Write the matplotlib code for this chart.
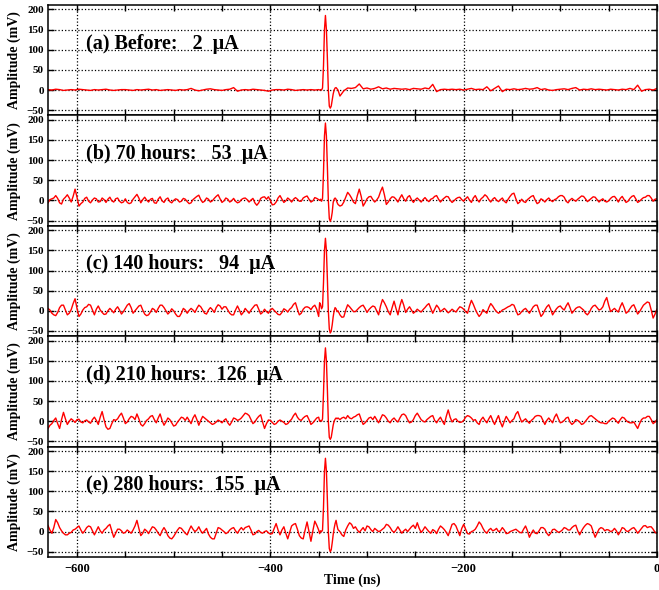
import numpy as np
import matplotlib
matplotlib.use('Agg')
from matplotlib import pyplot as plt, ticker

plt.rcParams['font.family'] = ['Liberation Serif', 'DejaVu Serif']
plt.rcParams['font.weight'] = 'bold'

# pulse region sampled at 1 ns, the rest at 4 ns (with 2 ns mid samples for b-e)
t_pulse = np.arange(-349, -329, 1)
t_pre_start, t_post_start = -630, -328

labels = ['(a) Before:   2  \u03bcA',
          '(b) 70 hours:   53  \u03bcA',
          '(c) 140 hours:   94  \u03bcA',
          '(d) 210 hours:  126  \u03bcA',
          '(e) 280 hours:  155  \u03bcA']

# (a) before
a_pre = [1, 0, 2, 1, -1, 0, 1, 0, 2, 1,
         0, -1, 1, 0, 1, 2, 0, -1, 0, 1,
         1, 0, -1, 1, 0, 1, 2, 0, 1, -1,
         0, 1, 0, -1, 1, 0, 1, 4, 0, -2,
         0, 2, 3, 1, 0, -1, 1, 2, 6, -3,
         0, 1, 0, 2, 1, 0, -1, -3, 0, 1,
         1, 0, 2, 1, -1, 0, 1, 0, 1, 0,
         1]
a_pulse = [0, 1, 0, 5, 60, 150, 185, 150, 80, 0, -40, -45, -40, -25, -10, 0, 5, 6, 3, 0]
a_post = [-15, -2, 5, 4, 6, 15, 3, 5, 2, 4,
          8, 3, 5, 2, 4, 3, 2, 3, 1, 4,
          3, 2, 5, 3, 14, -4, 1, 2, 1, 2,
          1, 2, 0, 2, 4, 1, 2, 1, 8, -2,
          4, 10, -4, 2, 1, 3, 1, 2, 4, 2,
          3, 6, 1, 3, 0, -1, 1, 2, 3, 1,
          4, 6, 0, 2, 1, 3, 1, 2, 1, 0,
          2, 1, 0, 2, 1, 4, 1, 12, -3, 1,
          2, 0, 4]

# (b) 70 hours
b_pre = [-6, 4, 12, -6, 3, 14, -4, 28, -14, -4,
         8, -6, 6, -4, 6, -5, 8, -4, 6, -6,
         4, -8, 3, 15, -6, 8, -4, 5, -7, 9,
         -5, 6, -6, 4, -4, 5, -3, -6, 6, 13,
         -5, 6, -4, 5, 14, -5, 6, -4, 5, -6,
         2, 6, -4, 5, -12, 5, 9, 9, -11, -4,
         12, -5, 6, -4, 7, -2, 6, 11, -4, 7,
         2]
b_pre_mid = [2, 6, 5, -9, 8, 6, 10, 8, -8, 5,
             -2, 1, 4, -3, 2, 3, -1, 4, -2, -4,
             -5, -6, 9, 6, 2, 1, 3, -6, 3, -1,
             3, -3, 0, 2, -2, 3, -8, 2, 10, 2,
             -2, 3, -1, 10, 4, -1, 3, -1, -2, -4,
             5, 2, 1, -6, -6, 8, 3, 0, -10, 6,
             3, -1, 2, 3, 3, -2, 9, 3, -1, 5]
b_pulse = [0, 3, -2, 5, 70, 160, 192, 160, 85, 0, -45, -52, -45, -30, -5, 3, 6, 3, -5, -10]
b_post = [-14, -4, 20, 6, -8, 28, -14, 4, 10, -4,
          8, 33, -10, 4, 8, -4, 14, -2, 12, -5,
          6, -4, 7, -3, 5, 12, -4, 6, 9, -5,
          4, 8, -2, 9, -5, 12, -4, 8, 10, -4,
          7, -3, 6, -6, 10, 18, -8, 3, -5, 6,
          12, -8, 4, -4, 6, -3, 4, 12, 8, -6,
          5, -2, 7, 10, -3, 5, 8, -4, 4, -4,
          5, 10, -4, 10, -5, 5, 12, -5, 3, 8,
          12, -2, 4]
b_post_mid = [-12, 8, 14, -4, 12, 10, -6, 9, 2, 1,
              22, 14, -4, 9, 3, 6, 4, 8, 2, 2,
              1, 2, 1, 3, 10, 3, 2, 10, 1, -1,
              7, 2, 4, 1, 6, 2, 4, 14, 2, 3,
              1, 2, -2, 3, 16, 4, -4, -3, 2, 10,
              1, -5, 1, 2, 0, 2, 9, 12, -2, 1,
              1, 3, 11, 4, 1, 9, 2, 1, -2, -1,
              9, 4, 5, 2, -2, 10, 4, -2, 7, 12,
              6, 3]

# (c) 140 hours
c_pre = [6, -6, -12, 8, 14, -10, 3, 30, -14, 2,
         10, 14, -10, 12, -4, -8, 6, -5, 10, -8,
         6, 18, -6, 6, 14, -8, -10, 6, -4, 14,
         8, -8, 5, -8, -14, 6, -6, 6, -4, 14,
         2, -8, 8, -4, 15, 4, 10, -6, -10, 12,
         -10, 6, -6, 8, 15, -8, 4, -6, 6, -4,
         -10, 5, -3, 8, 20, -10, 4, 10, 3, 14,
         -14]
c_pre_mid = [2, -10, -4, 14, 2, -6, 18, 6, -8, 8,
             16, 2, 4, 2, -9, 0, 1, 4, 2, -2,
             14, 8, 0, 12, 2, -12, -3, 3, 6, 14,
             0, -3, 0, -14, -6, 2, 1, 2, 6, 10,
             -6, 2, 3, 8, 12, 10, 2, -10, 2, 2,
             -4, 0, 2, 14, 4, -4, -2, 2, 1, -9,
             -4, 2, 4, 16, 4, -6, 9, 8, 10, 4]
c_pulse = [20, 15, 5, 10, 70, 150, 180, 150, 80, 0, -45, -55, -50, -35, -15, 0, 8, 5, -2, 0]
c_post = [-10, -15, 15, 4, -2, 8, 14, -4, 8, 10,
          -10, 28, 10, -10, 24, -10, 28, -4, 10, -6,
          4, -3, 8, 18, -6, 14, -2, 6, -5, 4,
          -3, 10, 4, -6, 26, 4, -14, 3, -6, 18,
          4, -6, 2, 7, 12, 14, -10, -2, 6, -6,
          10, 14, -14, 2, 15, -10, 5, 12, 2, 20,
          -6, 6, 10, 2, -10, 6, 14, 2, 10, 33,
          -2, 6, -3, 20, -6, 5, 15, -8, 6, 18,
          20, -18, 4]
c_post_mid = [-16, 2, 10, -2, 3, 12, 6, 3, 12, 0,
              12, 20, -2, 8, 6, 12, 14, 4, 2, -2,
              0, 3, 14, 6, 4, 8, 2, 1, -1, 0,
              4, 8, -2, 12, 16, -6, -8, -2, 8, 12,
              -2, -3, 4, 10, 16, 2, -8, 3, 0, 2,
              14, 0, -8, 10, 4, -2, 10, 6, 12, 8,
              0, 9, 6, -6, -4, 12, 8, 4, 24, 14,
              2, 1, 10, 8, -2, 12, 4, -2, 14, 22,
              2, -8]

# (d) 210 hours
d_pre = [-18, -6, 8, -18, 22, -8, 6, -3, 5, -4,
         3, -5, 10, -8, 24, -14, -18, 4, 6, 20,
         -6, 6, 10, 18, -8, -6, 6, 14, -4, 18,
         -10, 8, -4, -10, 4, 8, 10, -6, 16, -10,
         12, 4, -4, -6, 3, -4, 6, -10, 8, 2,
         8, 20, 14, -6, 6, 16, -18, 3, -3, -6,
         3, -3, -6, 5, 20, 4, 8, 14, -8, 2,
         10]
d_pre_mid = [-10, 2, -6, 4, 6, 0, 2, 4, -2, 1,
             -2, 4, 2, 10, 4, -20, -6, 2, 14, 8,
             -2, 12, 4, 6, -12, 2, 12, 4, 8, 2,
             -2, 4, -12, -2, 10, 2, 2, 8, 4, 2,
             8, 0, -8, -2, 0, 2, -4, -2, 6, 4,
             14, 18, 4, -2, 12, -2, -6, 2, -8, 0,
             0, -8, 0, 14, 10, 2, 12, 4, -4, 8]
d_pulse = [0, 2, 0, 6, 70, 150, 182, 150, 80, 0, -40, -45, -40, -25, -10, 0, 5, 8, 6, 8]
d_post = [4, 10, 14, 6, 12, 18, -8, 2, 10, 12,
          -4, 16, 8, -4, 8, -2, 16, 14, -4, 4,
          20, 4, -2, 8, 14, -4, 10, -8, 28, -2,
          6, -3, 2, 14, 8, 4, -8, 10, -4, 14,
          -8, 14, -14, 12, -4, 6, 24, -2, 6, -5,
          6, 14, 12, -8, 8, -4, 18, -4, 2, 10,
          -8, 4, -2, -6, 6, 14, 6, -2, -4, -6,
          4, 6, -5, 10, 2, -4, -2, -18, 4, 8,
          12, -6, 4]
d_post_mid = [8, 6, 8, 10, 16, 4, -4, 8, 4, 4,
              6, 14, 0, 4, 2, 8, 18, 4, -2, 14,
              12, 0, 4, 12, 2, 4, 0, 12, 10, 4,
              0, -2, 10, 12, 2, -4, 4, 2, 6, 2,
              4, -2, 0, 4, 2, 18, 10, 2, 0, 2,
              12, 14, 2, 2, 2, 10, 6, -2, 8, -2,
              -4, 2, -8, 0, 12, 10, 2, -4, -6, 0,
              8, 0, 4, 8, -2, -4, -10, -6, 8, 12,
              4, -2]

# (e) 280 hours
e_pre = [15, -4, 30, 10, -4, -8, -2, 6, 14, -4,
         10, 12, -8, 12, -4, 8, 18, -14, 6, 2,
         -2, 0, 4, 28, -10, 6, -5, 12, 4, -10,
         10, -10, -18, -4, 10, 2, -8, 14, 0, 12,
         -4, 8, -14, -18, 10, 4, -5, 4, 10, -4,
         10, 10, 14, -8, 0, -2, 0, -3, -5, 20,
         -8, 12, -18, 14, 20, -10, -18, 24, -24, 26,
         4]
e_pre_mid = [4, 10, 22, 2, -8, -4, 4, 10, 4, 2,
             14, 2, 2, 2, 4, 14, 2, -4, 6, -4,
             4, -4, 14, 8, -4, 2, 4, 10, -4, 2,
             2, -16, -12, 4, 8, -4, 4, 6, 4, 2,
             2, -6, -18, -4, 8, 0, -2, 8, 2, 4,
             4, 12, 4, -6, 3, -4, 2, -6, 8, 4,
             4, -4, -2, 18, 6, -16, 4, 0, 2, 16]
e_pulse = [-5, 2, 0, 4, 60, 150, 182, 150, 80, 0, -42, -50, -45, -28, -8, 8, 20, 28, 15, 5]
e_post = [0, -12, 14, 18, 12, -2, 10, 14, 5, 8,
          0, 6, 18, 10, -2, 12, -4, 6, 6, 16,
          22, -2, 12, 0, 5, -5, 14, 5, -10, 18,
          14, -10, 18, -5, 0, 6, 24, 8, -4, 8,
          4, 0, 10, -5, 0, 4, 2, -3, 14, -14,
          4, -5, 10, 6, -10, 5, 2, 0, 10, 4,
          10, 16, -8, 10, 20, 14, -14, 6, 8, 5,
          0, 8, -8, 10, 2, 4, 10, -4, 8, 15,
          12, 6, -4]
e_post_mid = [-8, 4, 22, 8, 4, 4, 2, 12, 0, 4,
              2, 10, 16, 2, 4, 4, 2, 0, 12, 8,
              8, 4, 6, -4, 2, 6, 10, -2, 4, 20,
              2, 8, 6, -6, 2, 14, 18, 0, 4, 2,
              8, 2, 4, -4, 2, 6, -2, 6, 2, -4,
              -4, 2, 10, -4, -4, 6, -2, 4, 8, 4,
              14, 2, 2, 16, 18, 0, -4, 10, 2, 4,
              2, 2, 0, 8, 0, 8, 4, 2, 14, 10,
              12, -2]

traces = [(a_pre, None, a_pulse, a_post, None),
          (b_pre, b_pre_mid, b_pulse, b_post, b_post_mid),
          (c_pre, c_pre_mid, c_pulse, c_post, c_post_mid),
          (d_pre, d_pre_mid, d_pulse, d_post, d_post_mid),
          (e_pre, e_pre_mid, e_pulse, e_post, e_post_mid)]


def _segment(start, coarse, mid):
    # 4 ns samples, optionally with the 2 ns samples in between
    if mid is None:
        return start + 4 * np.arange(len(coarse)), np.asarray(coarse, float)
    v = np.empty(len(coarse) + len(mid))
    v[0::2] = coarse
    v[1::2] = mid
    return start + 2 * np.arange(len(v)), v


def _config_axes(ax, last):
    ax.set_xlim(-630, 0)
    ax.set_ylim(-63, 211)
    ax.xaxis.set_major_locator(ticker.MultipleLocator(200))
    ax.xaxis.set_minor_locator(ticker.MultipleLocator(50))
    ax.yaxis.set_major_locator(ticker.MultipleLocator(50))
    ax.tick_params(which='both', direction='in', top=True, right=True, width=1.0, length=4)
    ax.tick_params(axis='x', pad=4, labelsize=9)
    ax.tick_params(axis='y', pad=3, labelsize=8)
    ax.grid(which='major', linestyle=':', color='black', linewidth=0.9)
    for sp in ax.spines.values():
        sp.set_linewidth(1.1)
    ax.set_ylabel('Amplitude (mV)', fontsize=10, fontweight='bold')
    ax.yaxis.set_label_coords(-0.044, 0.5)
    if last:
        ax.set_xlabel('Time (ns)', fontsize=10, fontweight='bold')
        ax.xaxis.set_label_coords((352 - 48) / 609, -0.15)
    else:
        ax.tick_params(labelbottom=False)


fig = plt.figure(figsize=(6.59, 5.90), dpi=100)
left, width = 48 / 659, 609 / 659
step = 110.4
for i, (pre, pre_mid, pulse, post, post_mid) in enumerate(traces):
    ax = fig.add_axes([left, 1 - (5 + step * (i + 1)) / 590, width, step / 590])
    t1, v1 = _segment(t_pre_start, pre, pre_mid)
    t3, v3 = _segment(t_post_start, post, post_mid)
    t = np.concatenate([t1, t_pulse, t3])
    v = np.concatenate([v1, pulse, v3])
    ax.plot(t, v, '-', color='red', lw=1.0)
    ax.text(-591, 115, labels[i], fontsize=14.5, fontweight='bold', va='center')
    _config_axes(ax, i == len(traces) - 1)

fig.savefig('out.png', dpi=100)
